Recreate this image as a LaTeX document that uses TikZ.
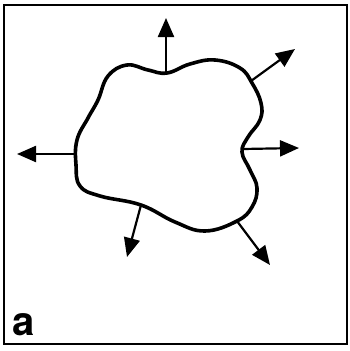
\documentclass[tikz,border=0pt]{standalone}
\usepackage{fontspec}
\setsansfont{TeX Gyre Heros}
\usetikzlibrary{arrows.meta}

\begin{document}
\begin{tikzpicture}[
    x=1pt, y=-1pt,
    frame/.style={draw, line width=2pt},
    cell/.style={draw, line width=3.6pt, line join=round},
    push/.style={draw, line width=2.2pt, -{Triangle[length=19pt, width=16pt]}},
    tag/.style={font=\sffamily\bfseries\fontsize{40}{40}\selectfont, inner sep=0pt, anchor=base west}
]
% Frame
\useasboundingbox (0,0) rectangle (349,351);
\draw [frame] (4,5) rectangle (347,344);

% Cell outline
\draw [cell] plot [smooth cycle, tension=0.7] coordinates {
    (167,73) (190,64) (215,60) (240,68) (252,83) (261,103) (260,120)
    (248,137) (242,152) (250,170) (257,188) (252,207) (237,221)
    (205,231) (175,222) (141,205) (100,196) (80,186) (76,165) (77,140)
    (88,118) (98,100) (108,76) (127,65) (148,70)};

% Arrow anchors
\coordinate (top) at (166,72);
\coordinate (topR) at (251,81);
\coordinate (right) at (243,149);
\coordinate (left) at (76,154);
\coordinate (botL) at (141,205);
\coordinate (botR) at (237,221);

\coordinate (topE) at (166,18);
\coordinate (topRE) at (295,49);
\coordinate (rightE) at (299,148);
\coordinate (leftE) at (17,154);
\coordinate (botLE) at (127,257);
\coordinate (botRE) at (270,265);

% Arrows
\path [push] (top) -- (topE);
\path [push] (topR) -- (topRE);
\path [push] (right) -- (rightE);
\path [push] (left) -- (leftE);
\path [push] (botL) -- (botLE);
\path [push] (botR) -- (botRE);

% Label
\node [tag] (lbl) at (12,335) {a};
\end{tikzpicture}
\end{document}
